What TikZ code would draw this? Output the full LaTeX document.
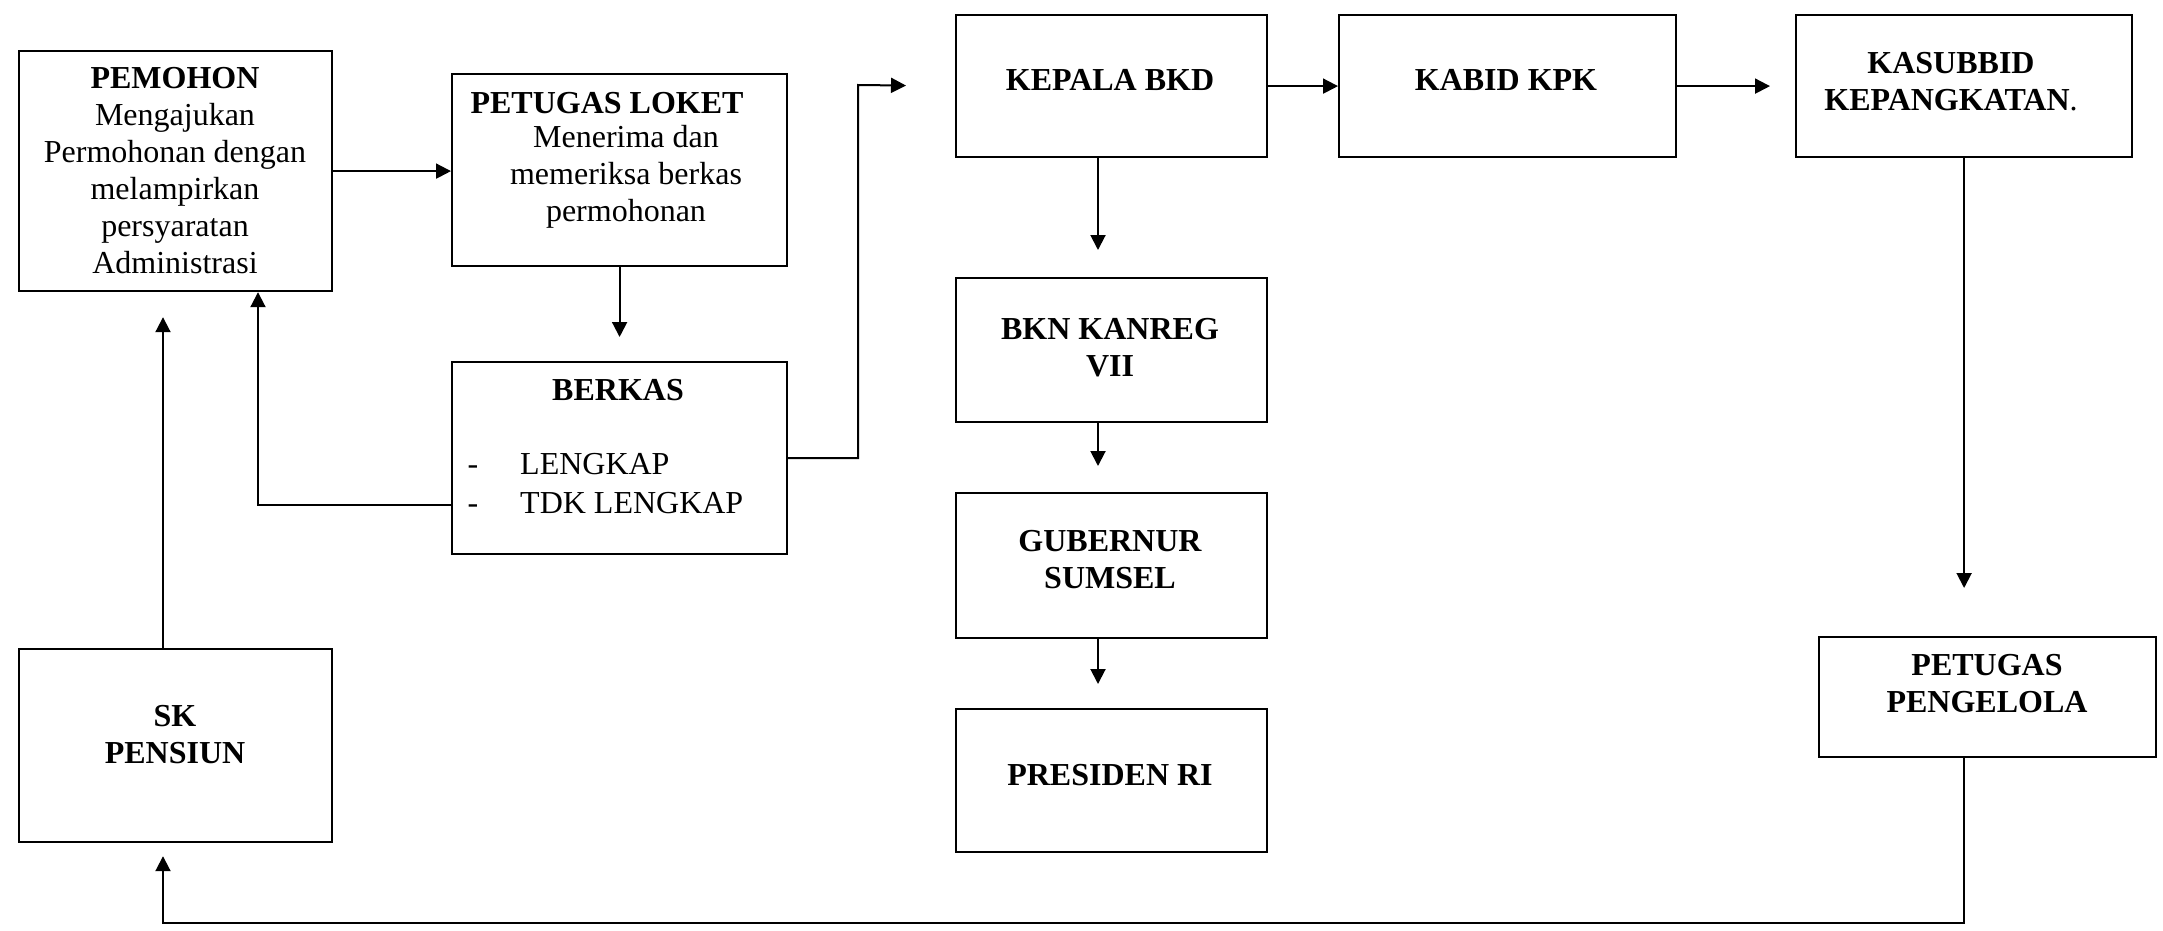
\documentclass[tikz,border=0pt]{standalone}
\usepackage{fontspec}
\setmainfont{Liberation Serif}
\usetikzlibrary{arrows.meta}
\newcommand\mybox[5]{\node[box, minimum width=#4pt, minimum height=#5pt] (#1) at (#2,#3) {};}
\begin{document}
\begin{tikzpicture}[x=1pt,y=-1pt,
  box/.style={draw, line width=2.2pt, inner sep=0pt, anchor=north west},
  txt/.style={align=center, inner sep=0pt, font=\fontsize{32}{37}\selectfont},
  btxt/.style={align=center, inner sep=0pt, font=\fontsize{32}{37}\selectfont\bfseries},
  conn/.style={line width=2pt},
  arr/.style={conn, -{Triangle[length=15pt,width=15pt]}}]
\useasboundingbox (0,0) rectangle (2163,931);
% boxes
\mybox{pemohon}{18}{50}{313}{240}
\mybox{loket}{451}{73}{335}{192}
\mybox{berkas}{451}{361}{335}{192}
\mybox{kepala}{955}{14}{311}{142}
\mybox{kabid}{1338}{14}{337}{142}
\mybox{kasub}{1795}{14}{336}{142}
\mybox{bkn}{955}{277}{311}{144}
\mybox{gub}{955}{492}{311}{145}
\mybox{pres}{955}{708}{311}{143}
\mybox{pengelola}{1818}{636}{337}{120}
\mybox{sk}{18}{648}{313}{193}
% texts
\node[txt] (tpem) at (175,171) {\textbf{PEMOHON}\\Mengajukan\\Permohonan dengan\\melampirkan\\persyaratan\\Administrasi};
\node[btxt] (tlok1) at (607,103) {PETUGAS LOKET};
\node[txt] (tlok2) at (626,177) {Menerima dan\\memeriksa berkas\\permohonan};
\node[btxt] (tber) at (618,390) {BERKAS};
\node[txt, anchor=base] (d1) at (473,474) {-};
\node[txt, anchor=base] (d2) at (473,513) {-};
\node[txt, anchor=base west] (l1) at (520,474) {LENGKAP};
\node[txt, anchor=base west] (l2) at (520,513) {TDK LENGKAP};
\node[btxt] (tkep) at (1110,80) {KEPALA BKD};
\node[btxt] (tkab) at (1506,80) {KABID KPK};
\node[btxt] (tkas) at (1951,82) {KASUBBID\\KEPANGKATAN\textmd{.}};
\node[btxt] (tbkn) at (1110,348) {BKN KANREG\\VII};
\node[btxt] (tgub) at (1110,560) {GUBERNUR\\SUMSEL};
\node[btxt] (tpres) at (1110,775) {PRESIDEN RI};
\node[btxt] (tpeng) at (1987,684) {PETUGAS\\PENGELOLA};
\node[btxt] (tsk) at (175,735) {SK\\PENSIUN};
% connectors
\draw[arr] (pemohon.east) -- (loket.west |- pemohon.east);
\draw[arr, shorten >=24pt] (loket.south) -- (berkas.north);
\coordinate (j1) at (858,85);
\draw[arr, shorten >=49pt] (berkas.east) -| (j1) -- (kepala.west);
\draw[arr] (berkas.west |- 0,505) -| (pemohon.south -| 258,0);
\draw[arr, shorten >=25pt] (sk.north -| 163,0) -- (pemohon.south -| 163,0);
\draw[arr] (kepala.east) -- (kabid.west);
\draw[arr, shorten >=25pt] (kabid.east) -- (kasub.west);
\draw[arr, shorten >=27pt] (kepala.south -| 1098,0) -- (bkn.north -| 1098,0);
\draw[arr, shorten >=26pt] (bkn.south -| 1098,0) -- (gub.north -| 1098,0);
\draw[arr, shorten >=24pt] (gub.south -| 1098,0) -- (pres.north -| 1098,0);
\draw[arr, shorten >=48pt] (kasub.south) -- (pengelola.north -| kasub.south);
\draw[arr, shorten >=13pt] (pengelola.south -| kasub.south) -- (kasub.south |- 0,923) -| (sk.south -| 163,0);
\end{tikzpicture}
\end{document}
